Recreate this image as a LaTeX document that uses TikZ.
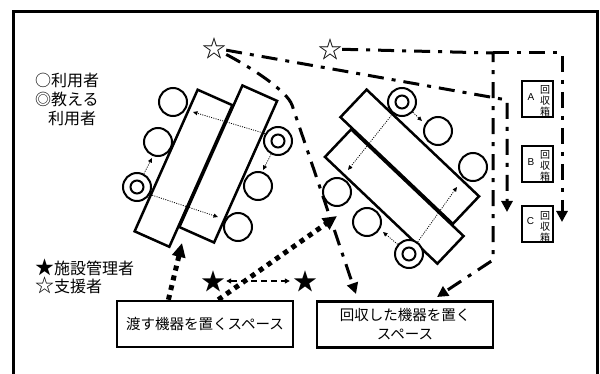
\documentclass[tikz,border=0pt]{standalone}
\usepackage{fontspec}
\setmainfont{Noto Sans CJK JP}
\newfontfamily\latinfont{Liberation Sans}
\usetikzlibrary{arrows.meta,calc}
\newcommand{\bigmark}[1]{\smash{\fontsize{19}{16}\selectfont #1}}
\begin{document}
\begin{tikzpicture}[x=1pt,y=-1pt,
  frameline/.style={line width=3pt},
  tablebox/.style={draw, line width=2.5pt, minimum width=155pt, minimum height=38pt, inner sep=0pt},
  seat/.style={draw, circle, line width=2pt, minimum size=28pt, inner sep=0pt, fill=white},
  teacher/.style={seat, path picture={\draw[line width=2pt] (path picture bounding box.center) circle[radius=6.5pt];}},
  route/.style={line width=3pt, dash pattern=on 16pt off 8pt on 4pt off 8pt},
  routetip/.style={-{Triangle[length=11pt,width=11pt]}},
  carry/.style={line width=5pt, dash pattern=on 5pt off 5pt, -{Triangle[length=14pt,width=13pt]}},
  hint/.style={line width=0.8pt, dash pattern=on 1pt off 1.3pt, -{Triangle[length=4.5pt,width=4pt]}},
  swap/.style={line width=1.2pt, dash pattern=on 6pt off 4pt, {Triangle[length=5pt,width=5pt]}-{Triangle[length=5pt,width=5pt]}, shorten >=3pt, shorten <=1pt},
  spacebox/.style={draw, line width=2.5pt, minimum width=176pt, minimum height=46pt, inner sep=0pt, font=\fontsize{14.5}{19}\selectfont, align=center},
  binbox/.style={draw, line width=2.5pt, minimum width=31pt, minimum height=36pt, inner sep=0pt},
  binletter/.style={inner sep=0pt, font=\latinfont\fontsize{10}{10}\selectfont},
  binkanji/.style={inner sep=0pt, align=center, font=\fontsize{10}{11}\selectfont},
  legend/.style={anchor=west, inner sep=0pt, font=\fontsize{16}{16}\selectfont},
  starmark/.style={inner sep=0pt, font=\fontsize{24}{24}\selectfont}
]
\useasboundingbox (0,0) rectangle (600,374);
\clip (0,0) rectangle (600,374);
\fill[white] (0,0) rectangle (600,374);
\draw[frameline] (13,12) rectangle (597,400);

% legend
\node[legend] (lg1) at (35,80) {○利用者};
\node[legend] (lg2) at (35,99) {◎教える};
\node[legend] (lg3) at (48,118) {利用者};
\node[legend] (lg4) at (35,268) {\bigmark{★}施設管理者};
\node[legend] (lg5) at (35,286) {\bigmark{☆}支援者};

% tables
\node[tablebox, rotate=66] (t1) at (183.5,168.25) {};
\node[tablebox, rotate=66] (t2) at (228.25,164) {};
\node[tablebox, rotate=-43.5] (t3) at (394.25,196.5) {};
\node[tablebox, rotate=-43.5] (t4) at (409.75,156.75) {};

% seats
\node[seat] (c1) at (173,102) {};
\node[seat] (c2) at (158,142) {};
\node[teacher] (c3) at (137,187) {};
\node[teacher] (c4) at (278,141) {};
\node[seat] (c5) at (258,186) {};
\node[seat] (c6) at (238,227) {};
\node[teacher] (d1) at (402,102) {};
\node[seat] (d2) at (438,131) {};
\node[seat] (d3) at (473,167) {};
\node[seat] (d4) at (337,192) {};
\node[seat] (d5) at (367,222) {};
\node[teacher] (d6) at (409,254) {};

% hints
\coordinate (h1) at (193,112);
\coordinate (h2) at (152,158);
\coordinate (h3) at (218,217);
\coordinate (h4) at (263,170);
\coordinate (h5) at (348,170);
\coordinate (h6) at (422,121);
\coordinate (h7) at (383,232);
\coordinate (h8) at (457,187);
\draw[hint] (c4.150) -- (h1);
\draw[hint] (c3) -- (h2);
\draw[hint] (c3.-30) -- (h3);
\draw[hint] (c4) -- (h4);
\draw[hint] (d1) -- (h5);
\draw[hint] (d1) -- (h6);
\draw[hint] (d6) -- (h7);
\draw[hint] (d6) -- (h8);

% bins
\node[binbox] (binA) at (537.5,99) {};
\node[binletter] (binAl) at (531,97.5) {A};
\node[binkanji] (binAk) at (545,101) {回\\収\\箱};
\node[binbox] (binB) at (537.5,164) {};
\node[binletter] (binBl) at (531,162) {B};
\node[binkanji] (binBk) at (545,166) {回\\収\\箱};
\node[binbox] (binC) at (537.5,224) {};
\node[binletter] (binCl) at (530.5,221) {C};
\node[binkanji] (binCk) at (545,227) {回\\収\\箱};

% stars and routes
\node[starmark] (s1) at (214,48) {☆};
\node[starmark] (s2) at (330,49) {☆};
\coordinate (a1) at (507,100);
\coordinate (a2) at (507,212);
\draw[route, routetip] (s1) -- (a1) -- (a2);
\coordinate (bEnd) at (356,294);
\draw[route, routetip] (s1) .. controls (252,68) and (287,91) .. (292,105) -- (bEnd);
\coordinate (k1) at (493,53);
\coordinate (k2) at (493,260);
\coordinate (k3) at (437,297);
\coordinate (k4) at (562,53);
\coordinate (k5) at (562,222);
\draw[route, routetip] (s2) -- (k1) -- (k2) -- (k3);
\draw[route, routetip] (k1) -- (k4) -- (k5);

% spaces
\node[spacebox] (lbox) at (205,324) {渡す機器を置くスペース};
\node[spacebox] (rbox) at (405,324.5) {回収した機器を置く\\スペース};
\coordinate (p1) at (182,243);
\coordinate (p2) at (337,216);
\draw[carry] ($(lbox.north west)!0.295!(lbox.north east)$) -- (p1);
\draw[carry] ($(lbox.north west)!0.574!(lbox.north east)$) -- (p2);

% managers
\node[starmark] (m1) at (213,281) {★};
\node[starmark] (m2) at (305,281) {★};
\draw[swap] (m1) -- (m2);
\end{tikzpicture}
\end{document}
